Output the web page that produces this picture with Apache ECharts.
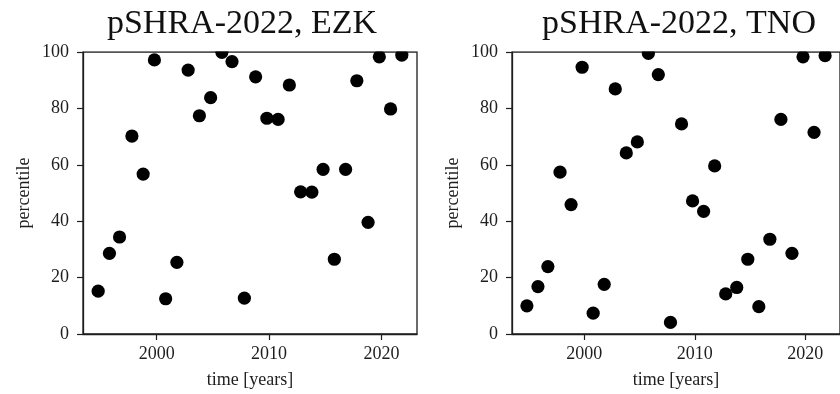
<!DOCTYPE html>
<html>
<head>
<meta charset="utf-8">
<script src="https://cdn.jsdelivr.net/npm/echarts@6/dist/echarts.min.js"></script>
<style>
  html, body { margin: 0; padding: 0; background: #ffffff; }
  #chart { width: 840px; height: 394px; }
</style>
</head>
<body>
<div id="chart"></div>
<script>
// Observation times (decimal years)
const timeYears = [1994.8, 1995.8, 1996.7, 1997.8, 1998.8, 1999.8, 2000.8, 2001.8, 2002.8, 2003.8,
                   2004.8, 2005.8, 2006.7, 2007.8, 2008.8, 2009.8, 2010.8, 2011.8, 2012.8, 2013.8,
                   2014.8, 2015.8, 2016.8, 2017.8, 2018.8, 2019.8, 2020.8, 2021.8];
// Percentile of each year within the pSHRA-2022 model, EZK variant
const percentileEZK = [15.2, 28.6, 34.4, 70.2, 56.7, 97.2, 12.5, 25.4, 93.6, 77.4,
                       83.8, 99.9, 96.6, 12.7, 91.2, 76.5, 76.1, 88.3, 50.4, 50.3,
                       58.4, 26.5, 58.4, 89.8, 39.6, 98.3, 79.8, 98.9];
// Same, TNO variant
const percentileTNO = [10.0, 16.8, 23.9, 57.4, 45.9, 94.6, 7.4, 17.6, 86.9, 64.2,
                       68.1, 99.5, 92.0, 4.1, 74.5, 47.2, 43.5, 59.6, 14.2, 16.5,
                       26.5, 9.7, 33.6, 76.1, 28.6, 98.3, 71.5, 98.7];
const panelTitles = ['pSHRA-2022, EZK', 'pSHRA-2022, TNO'];
const xTicks = [2000, 2010, 2020];
const yTicks = [0, 20, 40, 60, 80, 100];
const xLabel = 'time [years]';
const yLabel = 'percentile';

const FONT = 'Liberation Serif';
const INK = '#1e1e1e';

const panels = [
  { left: 83, titleX: 242 },
  { left: 512, titleX: 679 }
];
const PW = 334, PT = 52, PH = 282;

const pairs = (ys) => timeYears.map((t, i) => [t, ys[i]]);

const grids = panels.map(p => ({
  left: p.left, top: PT, width: PW, height: PH,
  show: true, borderColor: INK, borderWidth: 1.3, backgroundColor: 'transparent',
  containLabel: false
}));

const plainNumber = v => String(v);
const labelStyle = { color: INK, fontFamily: FONT, fontSize: 18, fontWeight: 'normal' };

const xAxes = panels.map((p, i) => ({
  type: 'value', gridIndex: i, min: 1993.45, max: 2023.15,
  splitLine: { show: false },
  axisLine: { show: true, onZero: false, lineStyle: { color: INK, width: 1.3 } },
  axisTick: { show: true, length: 6, lineStyle: { color: INK, width: 1.2 }, customValues: xTicks },
  axisLabel: Object.assign({ margin: 11, customValues: xTicks, formatter: plainNumber }, labelStyle),
  name: xLabel, nameLocation: 'middle', nameGap: 37,
  nameTextStyle: labelStyle
}));

const yAxes = panels.map((p, i) => ({
  type: 'value', gridIndex: i, min: 0, max: 100,
  splitLine: { show: false },
  axisLine: { show: true, onZero: false, lineStyle: { color: INK, width: 1.3 } },
  axisTick: { show: true, length: 6, lineStyle: { color: INK, width: 1.2 }, customValues: yTicks },
  axisLabel: Object.assign({ margin: 14, customValues: yTicks, formatter: plainNumber }, labelStyle),
  name: yLabel, nameLocation: 'middle', nameGap: 50, nameRotate: 90,
  nameTextStyle: labelStyle
}));

const chart = echarts.init(document.getElementById('chart'), null, { renderer: 'canvas' });

// White band above each frame so dots near 100 are cut at the top edge
const masks = panels.map(p => ({
  type: 'rect', z: 100,
  shape: { x: p.left - 2, y: PT - 14, width: PW + 4, height: 13.3 },
  style: { fill: '#ffffff' }
}));
const titles = panels.map((p, i) => ({
  type: 'text', x: p.titleX, y: 24, z: 110,
  style: {
    text: panelTitles[i], fill: '#111', fontFamily: FONT, fontSize: 34,
    align: 'center', verticalAlign: 'middle'
  }
}));

chart.setOption({
  animation: false,
  backgroundColor: '#ffffff',
  textStyle: { fontFamily: FONT },
  grid: grids,
  xAxis: xAxes,
  yAxis: yAxes,
  series: [percentileEZK, percentileTNO].map((ys, i) => ({
    type: 'scatter', xAxisIndex: i, yAxisIndex: i, z: 2,
    data: pairs(ys), symbol: 'circle', symbolSize: 13.2,
    itemStyle: { color: '#000000', opacity: 1 }
  })),
  graphic: { elements: masks.concat(titles) }
});
</script>
</body>
</html>
